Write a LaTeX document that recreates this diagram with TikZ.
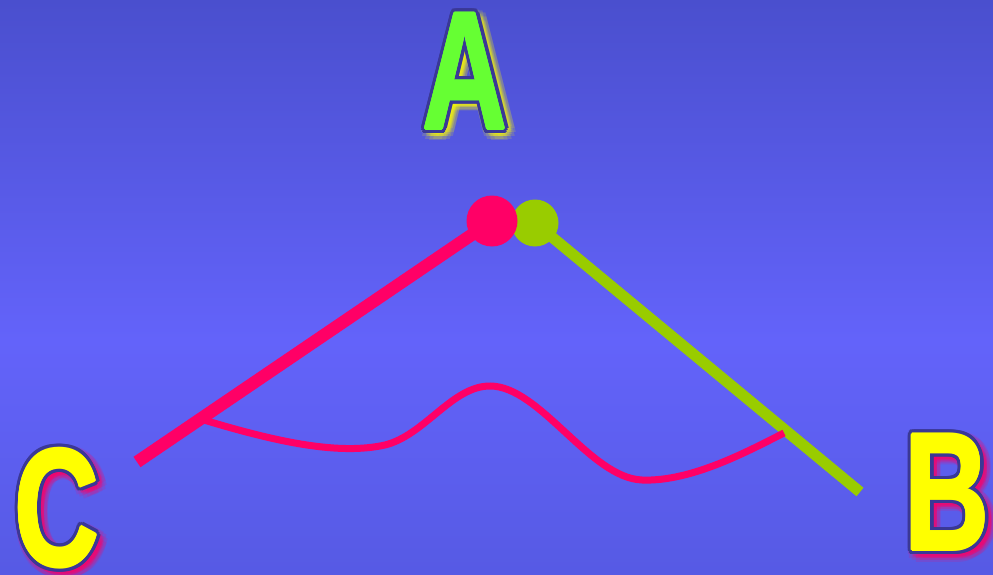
\documentclass[tikz,border=0pt]{standalone}
\usepackage{fontspec}
\setmainfont{Liberation Sans}
\usetikzlibrary{calc}
\definecolor{bgtop}{RGB}{74,79,206}
\definecolor{bgmid}{RGB}{99,99,250}
\definecolor{bgbot}{RGB}{86,90,228}
\definecolor{redc}{RGB}{255,0,102}
\definecolor{greenc}{RGB}{153,204,0}
\definecolor{agreen}{RGB}{102,255,51}
\definecolor{yel}{RGB}{255,255,0}
\definecolor{outl}{RGB}{58,56,150}
\tikzset{
  bigletter/.style={inner sep=0pt, anchor=base, font=\fontsize{168}{168}\selectfont\bfseries},
  dot/.style={circle, inner sep=0pt, minimum size=#1},
}
\newcommand\bigglyph[7]{% name, x, y, text, fill, glow, xscale
  \foreach \a in {0,30,...,330} {
    \node[bigletter, text=#6, opacity=0.15] at ($(#2,#3)+(\a:8)+(4,4)$) {\scalebox{#7}[1]{#4}};
    \node[bigletter, text=#6, opacity=0.2] at ($(#2,#3)+(\a:4)+(4,4)$) {\scalebox{#7}[1]{#4}};
  }
  \foreach \a in {0,22.5,...,337.5} {
    \node[bigletter, text=outl] at ($(#2,#3)+(\a:4.5)$) {\scalebox{#7}[1]{#4}};
  }
  \foreach \a in {0,45,...,315} {
    \node[bigletter, text=#5] at ($(#2,#3)+(\a:1.4)$) {\scalebox{#7}[1]{#4}};
  }
  \node[bigletter, text=#5] (#1) at (#2,#3) {\scalebox{#7}[1]{#4}};
}
\begin{document}
\begin{tikzpicture}[x=1pt,y=-1pt]
\useasboundingbox (0,0) rectangle (993,575);
\shade[top color=bgtop, bottom color=bgmid] (0,0) rectangle (993,340);
\shade[top color=bgmid, bottom color=bgbot] (0,340) rectangle (993,575);

\bigglyph{A}{465}{129}{A}{agreen}{yel}{0.70}
\bigglyph{C}{57}{566}{C}{yel}{redc}{0.70}
\bigglyph{B}{947}{550}{B}{yel}{redc}{0.70}

\coordinate (cend) at (137,462);
\coordinate (bend) at (860,492);
\node[dot=47pt, fill=greenc] (greenpt) at (535,223) {};
\draw[line width=11pt, greenc] (greenpt.center) -- (bend);
\draw[line width=12.5pt, redc] (cend) -- (492,221);
\node[dot=51pt, fill=redc] (redpt) at (492,221) {};
\coordinate (cs) at (204,420);
\coordinate (ce) at (784,433);
\draw[line width=7pt, redc] (cs) .. controls (280,443) and (340,455) .. (385,445)
  .. controls (425,435) and (452,386) .. (490,386)
  .. controls (540,386) and (590,478) .. (642,480)
  .. controls (692,482) and (750,450) .. (ce);
\end{tikzpicture}
\end{document}
